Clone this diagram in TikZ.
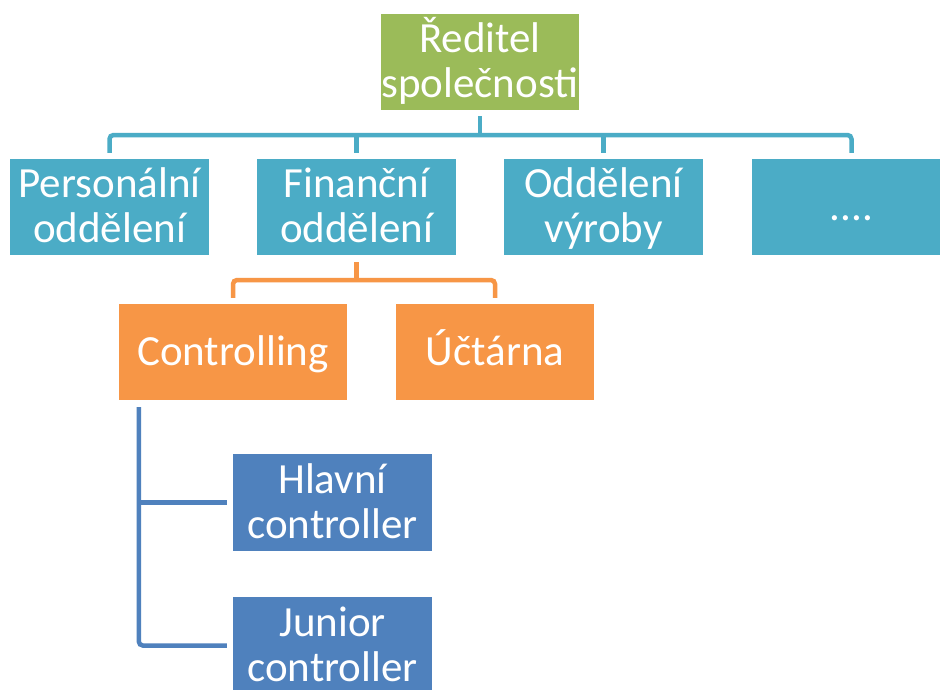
\documentclass[tikz,border=0pt]{standalone}
\usepackage{fontspec}
\setmainfont{Carlito}
\usetikzlibrary{calc}
\definecolor{boxgreen}{HTML}{9BBB59}
\definecolor{boxteal}{HTML}{4BACC6}
\definecolor{boxorange}{HTML}{F79646}
\definecolor{boxblue}{HTML}{4F81BD}
\tikzset{
  unit/.style={rectangle, draw=none, text=white, align=center, inner sep=0pt,
    font=\fontsize{43}{45}\selectfont, text depth=0pt},
  oneline/.style={text height=26.5pt},
  twoline/.style={text height=71.5pt},
  lvlA/.style={unit, twoline, fill=boxgreen, minimum width=198pt, minimum height=96pt},
  lvlB/.style={unit, twoline, fill=boxteal, minimum width=199pt, minimum height=96pt},
  lvlC/.style={unit, oneline, fill=boxorange, minimum height=96pt},
  lvlD/.style={unit, twoline, fill=boxblue, minimum width=199pt, minimum height=97pt},
  linkB/.style={draw=boxteal, line width=4.5pt, rounded corners=4pt},
  linkC/.style={draw=boxorange, line width=4.5pt, rounded corners=4pt},
  linkD/.style={draw=boxblue, line width=4.5pt, rounded corners=4pt},
}
\begin{document}
\begin{tikzpicture}[x=1pt, y=-1pt]
  \clip (0,0) rectangle (940,689);
  \fill[white] (0,0) rectangle (940,689);

  % director
  \node[lvlA] (dir) at (480,62) {Ředitel\\společnosti};

  % departments
  \node[lvlB] (pers) at (109.5,207) {Personální\\oddělení};
  \node[lvlB] (fin)  at (356.5,207) {Finanční\\oddělení};
  \node[lvlB] (vyr)  at (603.5,207) {Oddělení\\výroby};
  \node[lvlB, oneline] (dots) at (851.5,207) {....};

  % finance sections
  \node[lvlC, minimum width=228pt] (ctrl) at (233,352) {Controlling};
  \node[lvlC, minimum width=198pt] (uct)  at (495,352) {Účtárna};

  % controlling staff
  \node[lvlD] (hlav) at (332.5,502.5) {Hlavní\\controller};
  \node[lvlD] (jun)  at (332.5,645.5) {Junior\\controller};

  % bus lines
  \coordinate (busB) at (0,135);
  \coordinate (busC) at (0,280);

  % director -> departments
  \draw[linkB] ($(pers.north)+(0,-6)$) -- (pers.north |- busB)
    -- (dots.north |- busB) -- ($(dots.north)+(0,-6)$);
  \draw[linkB] ($(dir.south)+(0,6)$) -- (dir.south |- busB);
  \draw[linkB] ($(fin.north)+(0,-6)$) -- (fin.north |- busB);
  \draw[linkB] ($(vyr.north)+(0,-6)$) -- (vyr.north |- busB);

  % finance -> sections
  \draw[linkC] ($(ctrl.north)+(0,-6)$) -- (ctrl.north |- busC)
    -- (uct.north |- busC) -- ($(uct.north)+(0,-6)$);
  \draw[linkC] ($(fin.south)+(0,7)$) -- (fin.south |- busC);

  % controlling -> staff
  \coordinate (trunk) at ($(ctrl.south west)+(20,7)$);
  \draw[linkD] (trunk) |- ($(jun.west)+(-6,0)$);
  \draw[linkD] (trunk |- hlav.west) -- ($(hlav.west)+(-6,0)$);
\end{tikzpicture}
\end{document}
